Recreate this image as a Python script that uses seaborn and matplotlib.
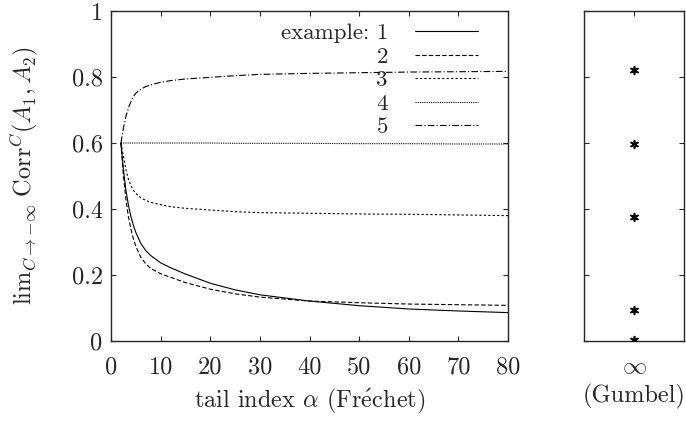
import matplotlib
matplotlib.use("Agg")
import matplotlib.pyplot as plt
import seaborn as sns
import pandas as pd

# tail index alpha (Frechet) and the limit correlation of the five examples
alpha = [2, 2.5, 3, 3.5, 4, 4.5, 5, 6, 7, 8, 10, 12, 15, 20, 25, 30, 40, 50, 60, 70, 80]
ex1 = [0.600, 0.520, 0.458, 0.413, 0.378, 0.351, 0.329, 0.296, 0.274, 0.259, 0.237,
       0.222, 0.203, 0.175, 0.155, 0.140, 0.121, 0.107, 0.097, 0.091, 0.086]
ex2 = [0.600, 0.500, 0.430, 0.378, 0.340, 0.310, 0.287, 0.254, 0.234, 0.220, 0.204,
       0.193, 0.177, 0.157, 0.143, 0.133, 0.121, 0.116, 0.112, 0.110, 0.108]
ex3 = [0.600, 0.560, 0.520, 0.491, 0.472, 0.457, 0.447, 0.434, 0.426, 0.420, 0.413,
       0.407, 0.402, 0.397, 0.392, 0.389, 0.387, 0.385, 0.384, 0.382, 0.380]
ex4 = [0.600, 0.600, 0.600, 0.600, 0.600, 0.600, 0.600, 0.600, 0.600, 0.600, 0.600,
       0.600, 0.600, 0.600, 0.599, 0.599, 0.599, 0.598, 0.598, 0.597, 0.597]
ex5 = [0.600, 0.645, 0.680, 0.706, 0.725, 0.740, 0.751, 0.763, 0.771, 0.776, 0.784,
       0.789, 0.794, 0.799, 0.804, 0.808, 0.811, 0.813, 0.815, 0.816, 0.817]
legend_labels = ["example: 1", "2", "3", "4", "5"]

# Gumbel case (alpha -> infinity)
gumbel_vals = [0.821, 0.596, 0.375, 0.094, 0.003]
gumbel_cat = [r"$\infty$"] * len(gumbel_vals)

xticks = [0, 10, 20, 30, 40, 50, 60, 70, 80]
yticks = [0, 0.2, 0.4, 0.6, 0.8, 1]
yticklabels = ["0", "0.2", "0.4", "0.6", "0.8", "1"]

sns.set_style("ticks")
plt.rcParams["font.family"] = ["cmr10", "DejaVu Serif"]
plt.rcParams["mathtext.fontset"] = "cm"
plt.rcParams["axes.formatter.use_mathtext"] = True
plt.rcParams["axes.unicode_minus"] = False
FS = 17.5

fig = plt.figure(figsize=(6.86, 4.21), dpi=100)
ax = fig.add_axes([111 / 686, 1 - 341 / 421, 397 / 686, 330 / 421])
ax2 = fig.add_axes([584 / 686, 1 - 341 / 421, 100 / 686, 330 / 421])

styles = ["-", (0, (4, 2)), (0, (2, 2)), (0, (1, 1)), (0, (6, 2, 1, 2))]
series = [ex1, ex2, ex3, ex4, ex5]
for vals, ls, lab in zip(series, styles, legend_labels):
    sns.lineplot(x=alpha, y=vals, ax=ax, color="black", linewidth=0.8,
                 linestyle=ls, label=lab)

ax.set_xlim(0, 80)
ax.set_ylim(0, 1)
ax.set_xticks(xticks)
ax.set_xticklabels([str(t) for t in xticks])
ax.set_yticks(yticks)
ax.set_yticklabels(yticklabels)
ax.tick_params(direction="in", length=3.6, width=0.8, top=True, right=True,
               labelsize=FS, pad=6)
ax.tick_params(axis="x", pad=11)
ax.set_xlabel(r"tail index $\alpha$ (Fr$\mathrm{\acute{e}}$chet)", fontsize=FS, labelpad=6)
ax.set_ylabel(r"$\mathrm{lim}_{C\to{-\infty}}\ \mathrm{Corr}^C(A_1, A_2)$", fontsize=FS, labelpad=22)
for sp in ax.spines.values():
    sp.set_linewidth(1.0)

# markerfirst=False right-aligns the entries, like the gnuplot key
ax.legend(loc="upper right", frameon=False, markerfirst=False, fontsize=16.5,
          handlelength=2.75, labelspacing=0.15, borderaxespad=0.2,
          bbox_to_anchor=(0.96, 1.005), handletextpad=1.2)

# right panel: Gumbel limit
df_g = pd.DataFrame({"case": gumbel_cat, "corr": gumbel_vals})
sns.stripplot(data=df_g, x="case", y="corr", ax=ax2, jitter=False, color="black",
              marker=(6, 2, 0), size=5.5, linewidth=1.2)
ax2.set_ylim(0, 1)
ax2.set_xlim(-0.5, 0.5)
ax2.set_yticks(yticks)
ax2.set_yticklabels([])
ax2.set_ylabel("")
ax2.set_xlabel("(Gumbel)", fontsize=FS, labelpad=4)
ax2.tick_params(direction="in", length=3.6, width=0.8, top=True, right=True, left=True,
                labelsize=FS, pad=6)
ax2.tick_params(axis="x", pad=11)
for sp in ax2.spines.values():
    sp.set_linewidth(1.0)

fig.savefig("out.png", dpi=100)
